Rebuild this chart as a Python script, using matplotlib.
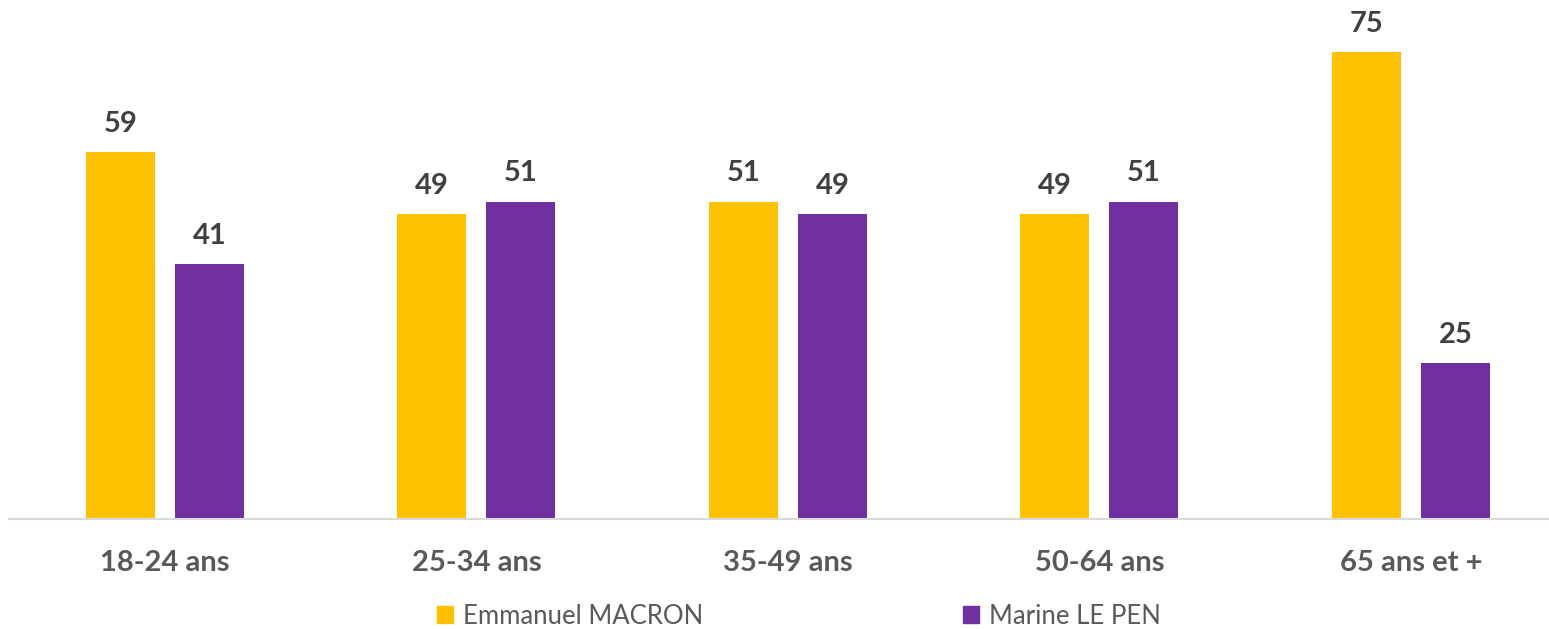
import matplotlib.pyplot as plt
import matplotlib.patches as mpatches
import numpy as np

# Age groups and second-round vote shares (%)
age_groups = ['18-24 ans', '25-34 ans', '35-49 ans', '50-64 ans', '65 ans et +']
macron = [59, 49, 51, 49, 75]
le_pen = [41, 51, 49, 51, 25]
series_names = ['Emmanuel MACRON', 'Marine LE PEN']
colors = ['#FFC000', '#7030A0']

plt.rcParams['font.family'] = ['Lato', 'DejaVu Sans']

fig = plt.figure(figsize=(15.49, 6.29), dpi=100)
ax = fig.add_axes([9/1549, 110/629, 1540/1549, 519/629])

x = np.arange(len(age_groups))
offset = 0.143
width = 0.2215

bars_m = ax.bar(x - offset, macron, width, color=colors[0])
bars_l = ax.bar(x + offset, le_pen, width, color=colors[1])

for bars in (bars_m, bars_l):
  for b in bars:
    ax.annotate(str(int(b.get_height())), (b.get_x() + b.get_width()/2, b.get_height()),
                xytext=(0, 11), textcoords='offset points', ha='center', va='bottom',
                fontsize=21, fontweight='bold', color='#404040')

ax.set_xlim(-0.5, 4.443)
ax.set_ylim(0, 83.4)
ax.set_xticks(x)
ax.set_xticklabels(age_groups, fontsize=21, fontweight='bold', color='#595959')
ax.tick_params(axis='x', length=0, pad=22.5)
ax.set_yticks([])
for s in ['top', 'right', 'left']:
  ax.spines[s].set_visible(False)
ax.spines['bottom'].set_color('#D9D9D9')
ax.spines['bottom'].set_linewidth(1.5)

handles = [mpatches.Patch(color=c, label=n) for c, n in zip(colors, series_names)]
fig.legend(handles=handles, loc='center', bbox_to_anchor=(799/1549, 13/629), ncol=2,
           frameon=False, fontsize=18.5, labelcolor='#595959',
           handlelength=0.62, handleheight=0.62, handletextpad=0.4, columnspacing=10.1,
           borderpad=0.1)

fig.savefig('out.png', dpi=100)
